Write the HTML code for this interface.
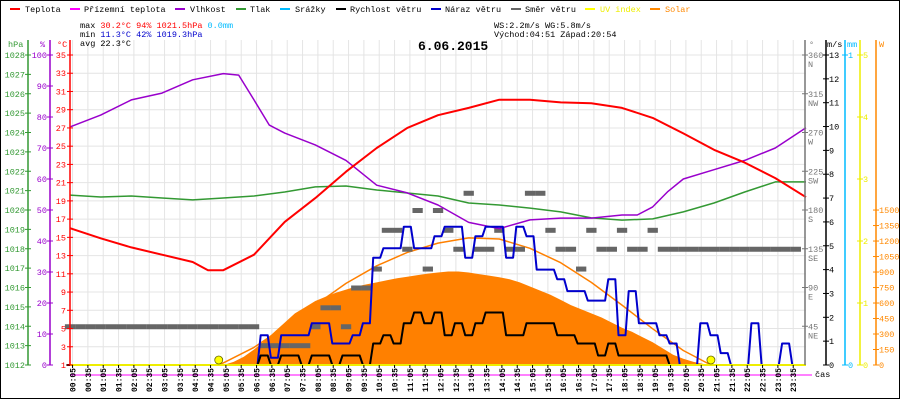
<!DOCTYPE html>
<html><head><meta charset="utf-8"><style>
html,body{margin:0;padding:0;background:#fff;}
svg{display:block;font-family:"Liberation Mono",monospace;}
</style></head><body>
<svg id="c" width="900" height="400" viewBox="0 0 900 400" xmlns="http://www.w3.org/2000/svg">
<rect x="0.5" y="0.5" width="899" height="398" fill="#fff" stroke="#000"/>
<g id="grid"></g>
<g id="series"></g>
<g id="axes"></g>
<g font-size="8.5">
<line x1="10" y1="9" x2="20" y2="9" stroke="#f00" stroke-width="2"/><text x="25" y="12">Teplota</text>
<line x1="70" y1="9" x2="80" y2="9" stroke="#f0f" stroke-width="2"/><text x="84" y="12">Přízemní teplota</text>
<line x1="175" y1="9" x2="185" y2="9" stroke="#90c" stroke-width="2"/><text x="190" y="12">Vlhkost</text>
<line x1="236" y1="9" x2="246" y2="9" stroke="#393" stroke-width="2"/><text x="250" y="12">Tlak</text>
<line x1="280" y1="9" x2="290" y2="9" stroke="#0bf" stroke-width="2"/><text x="295" y="12">Srážky</text>
<line x1="336" y1="9" x2="346" y2="9" stroke="#000" stroke-width="2"/><text x="350" y="12">Rychlost větru</text>
<line x1="431" y1="9" x2="441" y2="9" stroke="#00c" stroke-width="2"/><text x="445" y="12">Náraz větru</text>
<line x1="511" y1="9" x2="521" y2="9" stroke="#666" stroke-width="2"/><text x="525" y="12">Směr větru</text>
<line x1="585" y1="9" x2="595" y2="9" stroke="#ff0" stroke-width="2"/><text x="600" y="12" fill="#ee0">UV index</text>
<line x1="650" y1="9" x2="660" y2="9" stroke="#f80" stroke-width="2"/><text x="665" y="12" fill="#f80">Solar</text>
</g>
<g font-size="8.5">
<text x="80" y="28">max <tspan fill="#f00">30.2°C  94%  1021.5hPa</tspan>   <tspan fill="#0bf">0.0mm</tspan></text>
<text x="80" y="37">min <tspan fill="#00c">11.3°C  42%  1019.3hPa</tspan></text>
<text x="80" y="46">avg 22.3°C</text>
<text x="494" y="28">WS:2.2m/s    WG:5.8m/s</text>
<text x="494" y="37">Východ:04:51 Západ:20:54</text>
</g>
<text x="418" y="50" font-size="13" font-weight="bold">6.06.2015</text>
</svg>
<script>
// ---- data ----
const tempHours=[0,1,2,3,4,4.5,5,6,7,8,9,10,11,12,13,14,15,16,17,18,19,20,21,22,23,24];
const tempVals=[16.0,14.9,13.9,13.1,12.3,11.4,11.4,13.1,16.7,19.3,22.2,24.8,27.0,28.4,29.2,30.1,30.1,29.8,29.7,29.2,28.1,26.4,24.6,23.2,21.5,19.4];
const humHours=[0,1,2,3,4,5,5.5,6,6.5,7,8,9,10,11,12,13,14,15,16,17,18,18.5,19,19.5,20,21,22,23,24];
const humVals=[76.8,80.6,85.5,87.7,92,94,93.5,85.5,77.4,74.8,71,66,58,55.5,51.6,46,44,46.8,47.4,47.4,48.4,48.4,51,56,60,63,66,70,76.5];
const presHours=[0,1,2,3,4,5,6,7,8,9,10,11,12,13,14,15,16,17,18,19,20,21,22,23,24];
const presVals=[1020.77,1020.67,1020.72,1020.62,1020.52,1020.62,1020.72,1020.93,1021.19,1021.24,1021.03,1020.88,1020.72,1020.36,1020.26,1020.10,1019.90,1019.59,1019.48,1019.54,1019.90,1020.36,1020.93,1021.45,1021.45];
// wind per 20-min bin (bins 0..71)
const windSpeed=[0,0,0,0,0,0,0,0,0,0,0,0,0,0,0,0,0,0,0,0.4,0,0.4,0.4,0,0.4,0.4,0,0.4,0.4,0,0.9,1.25,0.9,1.75,2.2,1.75,2.2,1.25,1.75,1.25,1.75,2.2,2.2,1.25,1.25,1.75,1.75,1.75,1.25,1.25,0.9,0.9,0.4,0.9,0.4,0.4,0.4,0.4,0.4,0,0,0,0,0,0,0,0,0,0,0,0,0];
const windGust=[0,0,0,0,0,0,0,0,0,0,0,0,0,0,0,0,0,0,0,1.25,0.3,1.25,1.25,1.25,1.75,1.75,0.9,0.9,1.25,1.75,4.5,4.9,4.9,5.8,4.9,4.9,5.4,5.8,5.8,4.5,5.4,5.8,5.8,4.5,5.8,5.4,4.0,4.0,3.6,3.1,3.1,2.7,2.7,3.6,1.25,3.1,1.75,1.75,1.25,0.9,0,0,1.75,1.25,0.5,0,0,1.75,0,0,0.9,0];
const windDir=[45,45,45,45,45,45,45,45,45,45,45,45,45,45,45,45,45,45,45,23,23,23,23,23,45,67,67,45,90,90,112,157,157,135,180,112,180,157,135,200,135,135,157,135,135,200,200,157,135,135,112,157,135,135,157,135,135,157,135,135,135,135,135,135,135,135,135,135,135,135,135,135];
const solarVals=[0,0,0,0,0,0,0,0,0,0,0,0,0,0,0,0,30,80,150,230,320,410,500,560,620,660,700,730,760,780,800,820,840,855,870,885,895,905,905,895,880,865,850,830,800,760,720,680,630,580,540,500,460,410,360,320,270,220,160,100,60,30,10,0,0,0,0,0,0,0,0,0];
const solarMaxHours=[4.85,5,6,7,8,9,10,11,12,13,14,15,16,17,18,19,20,20.9];
const solarMaxVals=[0,20,170,370,580,790,960,1090,1180,1230,1220,1130,990,800,580,350,140,0];
const tempTicks=[35,33,31,29,27,25,23,21,19,17,15,13,11,9,7,5,3,1];
const presTicks=[1028,1027,1026,1025,1024,1023,1022,1021,1020,1019,1018,1017,1016,1015,1014,1013,1012];
const humTicks=[100,90,80,70,60,50,40,30,20,10,0];
const dirTicks=[360,315,270,225,180,135,90,45];
const dirNames=["N","NW","W","SW","S","SE","E","NE"];
const msTicks=[13,12,11,10,9,8,7,6,5,4,3,2,1,0];
const uvTicks=[5,4,3,2,1,0];
const wTicks=[1500,1350,1200,1050,900,750,600,450,300,150,0];
const timeLabels=[];for(let h=0;h<24;h++){for(const m of [5,35]){timeLabels.push(String(h).padStart(2,'0')+':'+String(m).padStart(2,'0'));}}

// ---- scales ----
const X0=70,X1=806,YT=40,YB=365;
const xH=h=>X0+h/24*(X1-X0);
const xBin=i=>xH(i/3);
const yT=v=>YB-(v-1)/34*310;
const yP=v=>YB-(v-1012)/16*310;
const yH=v=>YB-v/100*310;
const yD=v=>YB-v/360*310;
const yMS=v=>YB-v/13*310;
const yUV=v=>YB-v/5*310;
const yW=v=>YB-v*0.1033;

const NS='http://www.w3.org/2000/svg';
function mk(tag,attrs,parent){const e=document.createElementNS(NS,tag);for(const k in attrs)e.setAttribute(k,attrs[k]);parent.appendChild(e);return e;}
const grid=document.getElementById('grid'),ser=document.getElementById('series'),ax=document.getElementById('axes');

// grid
timeLabels.forEach((l,i)=>{const x=xH((5+30*i)/60);
 const g=mk('line',{x1:x,y1:YT,x2:x,y2:YB,stroke:'#e4e4e4','stroke-width':1},grid);
 });
tempTicks.forEach(v=>{const y=yT(v);const g=mk('line',{x1:X0,y1:y,x2:X1,y2:y,stroke:'#e4e4e4','stroke-width':1},grid);
 });

// solar fill
let d='M'+xBin(0)+','+YB;
solarVals.forEach((v,i)=>{d+=' L'+xBin(i).toFixed(1)+','+yW(v).toFixed(1);});
d+=' L'+xBin(solarVals.length-1)+','+YB+' Z';
const sf=mk('path',{d:d,fill:'#ff8000',stroke:'none'},ser);


function line(xs,ys,color,w){let p='';xs.forEach((x,i)=>{p+=(i?' L':'M')+x.toFixed(1)+','+ys[i].toFixed(1);});
 const e=mk('path',{d:p,fill:'none',stroke:color,'stroke-width':w,'stroke-linejoin':'round'},ser);return e;}

// solar max curve
const smc=line(solarMaxHours.map(xH),solarMaxVals.map(yW),'#ff8000',1.5);


// wind direction blocks
windDir.forEach((v,i)=>{if(v==null)return;const r=mk('rect',{x:xBin(i)-5.1,y:yD(v)-2,width:10.3,height:5,fill:'#666'},ser);
 });

// pressure, humidity, temp
const pl=line(presHours.map(xH),presVals.map(yP),'#393',1.5);

const hl=line(humHours.map(xH),humVals.map(yH),'#90c',1.5);

const tl=line(tempHours.map(xH),tempVals.map(yT),'#f00',2);


// wind lines
function stepXY(vals){const xs=[],ys=[];vals.forEach((v,i)=>{xs.push(xBin(i)-3.5);ys.push(yMS(v));xs.push(xBin(i)+3.5);ys.push(yMS(v));});return [xs,ys];}
let sg=stepXY(windGust);const gl=line(sg[0],sg[1],'#00c',2);

let ss=stepXY(windSpeed);const wl=line(ss[0],ss[1],'#000',2);


// UV baseline and magenta ground temp
const uv=mk('line',{x1:X0,y1:YB,x2:X1,y2:YB,stroke:'#ee0','stroke-width':2},ser);

const mg=mk('line',{x1:X0,y1:375,x2:812,y2:375,stroke:'#f0f','stroke-width':1},ser);

[4.85,20.9].forEach(h=>{const c=mk('circle',{cx:xH(h),cy:YB-5,r:4,fill:'#ff0',stroke:'#660','stroke-width':0.8},ser);
 });

// axes helper
function axis(x,color,ticks,yf,labelX,anchor,name,labels){
 const a=mk('line',{x1:x,y1:YT,x2:x,y2:YB,stroke:color,'stroke-width':1.5},ax);
 
 ticks.forEach((v,i)=>{const y=yf(v);mk('line',{x1:x-3,y1:y,x2:x+3,y2:y,stroke:color,'stroke-width':1},ax);
  const t=mk('text',{x:labelX,y:y+3,fill:color,'font-size':8.5,'text-anchor':anchor},ax);
  t.textContent=labels?labels[i]:v;
  });}
axis(28,'#393',presTicks,yP,25,'end','pressure-axis');
axis(50,'#90c',humTicks,yH,47,'end','humidity-axis');
axis(70,'#f00',tempTicks,yT,66,'end','temperature-axis');
axis(805,'#777',dirTicks,yD,808,'start','direction-axis');
dirTicks.forEach((v,i)=>{const t=mk('text',{x:808,y:yD(v)+12,fill:'#777','font-size':8.5},ax);t.textContent=dirNames[i];
 });
axis(826,'#000',msTicks,yMS,829,'start','wind-speed-axis');
axis(845,'#0bf',[1,0],v=>yMS(13*v),848,'start','precipitation-axis');
axis(860,'#ee0',uvTicks,yUV,863,'start','uv-axis');
const wa=mk('line',{x1:876,y1:YT,x2:876,y2:YB,stroke:'#f80','stroke-width':1.5},ax);

wTicks.forEach(v=>{const y=yW(v);mk('line',{x1:873,y1:y,x2:879,y2:y,stroke:'#f80'},ax);
 const t=mk('text',{x:879,y:y+3,fill:'#f80','font-size':8.5},ax);t.textContent=v;
 });
// unit titles
[['hPa',8,'#393'],['%',40,'#90c'],['°C',57,'#f00'],['°',809,'#777'],['m/s',827,'#000'],['mm',847,'#0bf'],['W',879,'#f80']].forEach(u=>{
 const t=mk('text',{x:u[1],y:47,fill:u[2],'font-size':8.5},ax);t.textContent=u[0];
 });
// time labels
timeLabels.forEach((l,i)=>{const x=xH((5+30*i)/60);
 mk('line',{x1:x,y1:YB,x2:x,y2:YB+3,stroke:'#000'},ax);
 const t=mk('text',{x:0,y:0,'font-size':8,'font-weight':'bold','text-anchor':'end',transform:'translate('+(x+3)+',368) rotate(-90)'},ax);
 t.textContent=l;});
const cas=mk('text',{x:815,y:377,'font-size':8.5},ax);cas.textContent='čas';

</script>
</body></html>
